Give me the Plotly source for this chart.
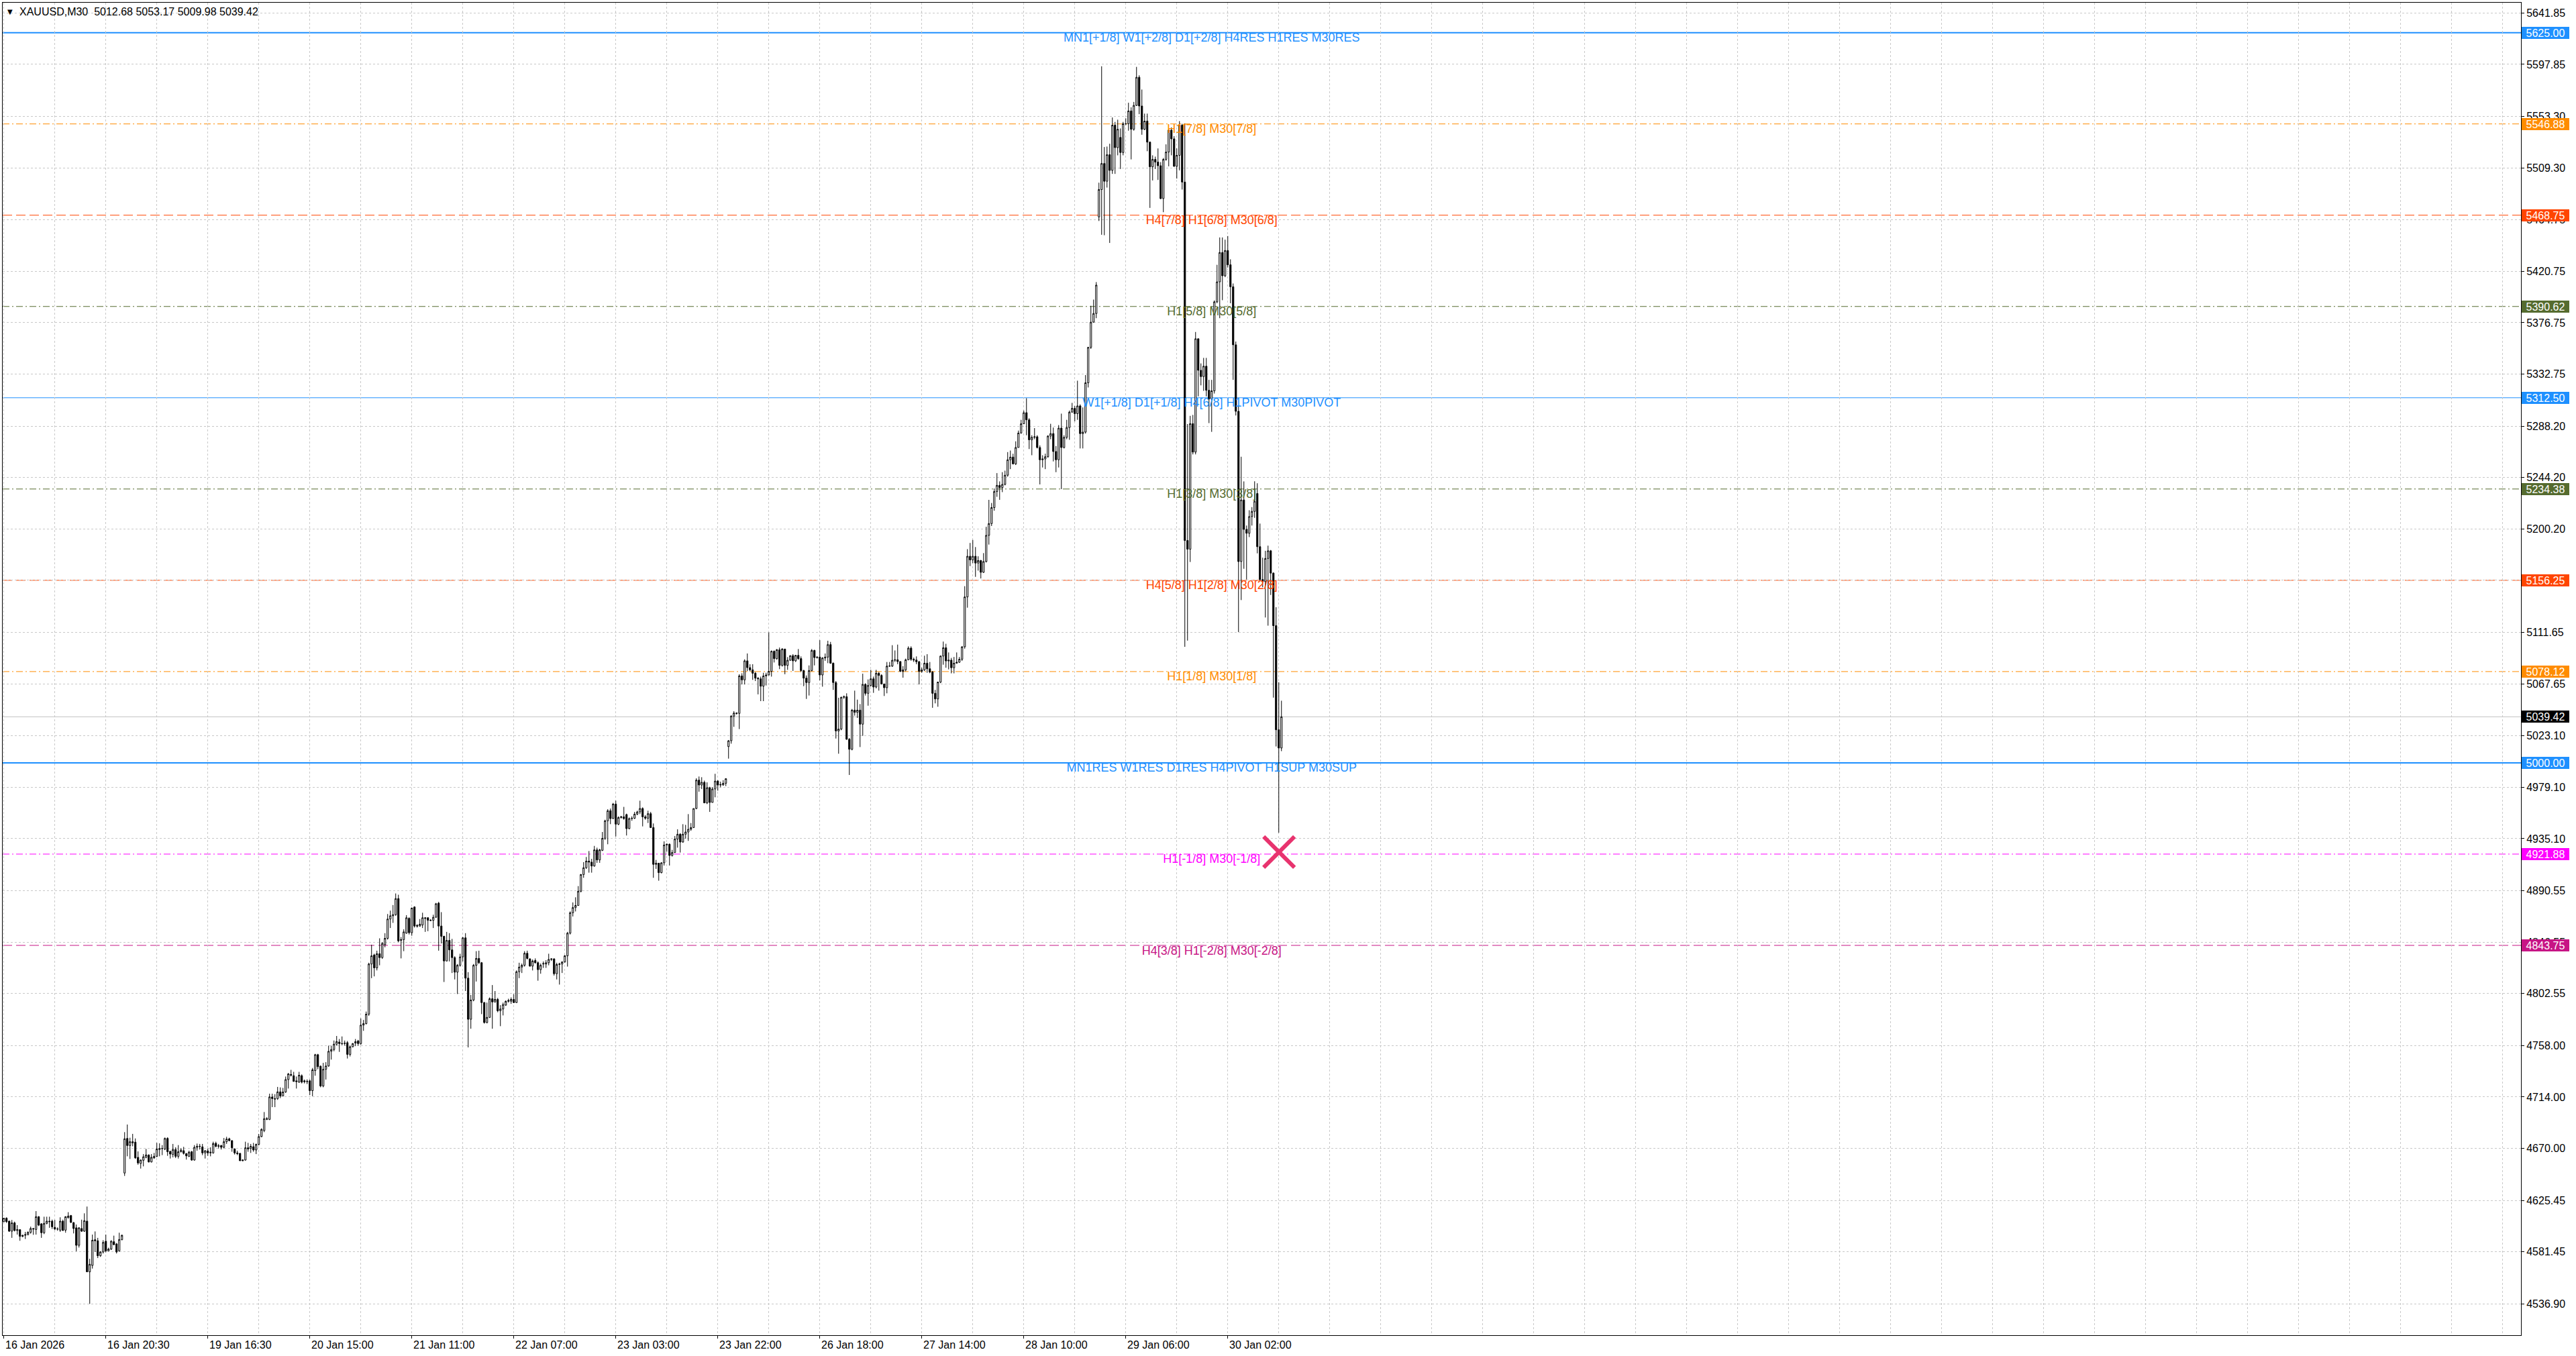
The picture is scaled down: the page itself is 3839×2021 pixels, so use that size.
import plotly.graph_objects as go

# XAUUSD M30 candles, one value per bar (bar index = position on the chart)
bar_open = [
    4607.3, 4610.2, 4607.7, 4599.1, 4606.2, 4599.7, 4600.4, 4594.7, 4595.6, 4596.2,
    4598.1, 4601.4, 4600.6, 4611.5, 4605.4, 4597.8, 4605.8, 4607.7, 4607.7, 4602.4,
    4601.0, 4600.0, 4607.7, 4600.0, 4610.6, 4612.5, 4606.4, 4602.0, 4587.0, 4601.4,
    4599.1, 4607.7, 4564.3, 4569.8, 4591.8, 4590.9, 4578.1, 4581.3, 4590.5, 4582.3,
    4583.8, 4590.1, 4588.2, 4582.3, 4591.8,
    4648.9, 4678.5, 4672.4, 4674.7, 4675.3, 4662.3, 4657.1, 4659.8, 4662.3, 4664.2,
    4658.4, 4661.9, 4663.2, 4669.0, 4669.9, 4669.4, 4678.5, 4667.4, 4664.7, 4669.0,
    4663.2, 4667.1, 4668.0, 4665.5, 4663.2, 4667.1, 4660.0, 4670.9, 4671.8, 4671.3,
    4666.1, 4667.8, 4666.1, 4666.1, 4674.3, 4671.8, 4672.4, 4670.9, 4675.7, 4678.2,
    4676.6, 4669.5, 4666.1, 4665.7, 4659.4, 4660.0, 4670.5, 4669.9, 4671.4, 4668.6,
    4673.4, 4680.1, 4685.2, 4694.8, 4694.8, 4714.0, 4712.6, 4712.6, 4718.4,
    4714.9, 4718.3, 4728.9, 4733.3, 4732.2, 4727.8, 4726.7, 4732.2, 4727.8, 4727.1,
    4727.8, 4719.4, 4736.6, 4750.2, 4740.3, 4723.4, 4737.7, 4740.5, 4753.1, 4754.6,
    4759.2, 4761.0, 4759.7, 4759.7, 4760.5, 4750.4, 4757.0, 4760.1, 4761.9, 4759.7,
    4775.5, 4776.8, 4784.9, 4827.8, 4835.5, 4824.5, 4836.6, 4833.3, 4844.3, 4849.8,
    4866.3, 4869.1, 4870.0, 4883.8, 4848.0, 4848.7, 4854.2, 4866.9, 4854.6, 4876.6,
    4860.8, 4860.3, 4861.2, 4867.4, 4867.4, 4865.2, 4865.2, 4867.8, 4879.9, 4860.3,
    4851.5, 4830.4, 4848.0, 4839.9, 4833.3, 4820.8, 4826.7, 4833.9, 4850.2, 4815.7,
    4780.5, 4797.0, 4826.7, 4832.6, 4828.9, 4794.8, 4777.7, 4782.1, 4798.1, 4795.3,
    4797.5, 4787.8, 4789.3, 4792.6, 4795.9, 4795.9, 4797.5, 4794.8, 4821.2, 4825.2,
    4826.7, 4837.0, 4832.2, 4826.0, 4830.8, 4828.9, 4823.0, 4827.8, 4827.8, 4828.9,
    4831.7, 4832.2, 4819.5, 4827.4, 4827.8, 4829.6, 4834.8, 4854.2, 4871.7, 4876.1,
    4877.9, 4890.1, 4904.4, 4910.2, 4915.9, 4915.0, 4911.7, 4925.5, 4916.9, 4925.1,
    4935.4, 4950.4, 4959.0, 4952.3, 4964.7, 4947.5, 4953.2, 4953.8, 4955.7, 4943.7,
    4952.3, 4952.6, 4956.1, 4958.0, 4960.9, 4953.8, 4952.6, 4956.5, 4944.6, 4913.1,
    4914.1, 4906.0, 4914.4, 4929.7, 4930.3, 4920.7, 4923.2, 4934.7, 4938.9, 4932.2,
    4938.9, 4940.8, 4943.1, 4944.6, 4960.9, 4985.2, 4981.0, 4983.3, 4965.7, 4978.7,
    4966.1, 4977.6, 4984.4, 4981.0, 4981.0, 4982.5,
    5013.9, 5018.9, 5040.0, 5042.6, 5042.3, 5074.4, 5071.0, 5087.3, 5081.5, 5079.6,
    5076.7, 5072.5, 5071.9, 5065.6, 5074.4, 5075.2, 5078.3, 5095.5, 5089.2, 5096.8,
    5083.4, 5097.4, 5083.4, 5087.8, 5091.7, 5087.3, 5092.0, 5089.2, 5079.0, 5072.5,
    5068.7, 5079.0, 5096.2, 5090.1, 5090.5, 5075.2, 5089.7, 5090.5, 5101.2, 5085.3,
    5068.7, 5027.3, 5028.9, 5056.1, 5056.6, 5020.2, 5011.6, 5045.1, 5043.2, 5045.1,
    5033.1, 5067.1, 5059.5, 5066.2, 5071.9, 5064.9, 5076.7, 5074.8, 5067.5, 5064.3,
    5082.8, 5082.8, 5087.8, 5088.2, 5086.7, 5078.3, 5079.6, 5088.2, 5098.2, 5088.6,
    5088.0, 5086.5, 5078.3, 5079.6, 5085.3, 5080.5, 5077.7, 5059.5, 5054.7,
    5069.1, 5091.4, 5098.5, 5087.2, 5087.9, 5081.4, 5085.3, 5086.1, 5088.7, 5099.3,
    5142.0, 5176.8, 5173.7, 5176.8, 5171.0, 5173.1, 5163.1, 5172.3, 5194.7, 5204.8,
    5218.5, 5232.2, 5237.5, 5235.6, 5238.3, 5246.2, 5259.4, 5261.7, 5255.9, 5269.9,
    5282.3, 5290.2, 5299.7, 5293.6, 5276.5, 5278.6, 5279.1, 5269.9, 5259.4, 5260.1,
    5262.0, 5279.7, 5281.8, 5266.5, 5259.4, 5286.5, 5269.9, 5278.6, 5287.0, 5300.2,
    5303.4, 5298.9, 5305.5, 5281.8, 5283.1, 5325.3, 5355.6, 5377.2, 5384.6,
    5467.3, 5490.7, 5513.0, 5497.8, 5520.5, 5507.1, 5545.8, 5526.6, 5535.3, 5522.4,
    5547.0, 5547.0, 5558.0, 5542.3, 5562.7, 5586.8, 5562.2, 5542.3, 5549.3, 5531.3,
    5510.2, 5516.5, 5514.2, 5511.1, 5483.0, 5516.5, 5522.8, 5541.6, 5534.1, 5510.6,
    5520.0, 5545.8,
    5497.1, 5190.3, 5182.9, 5290.3, 5266.0, 5363.0, 5336.0, 5330.6, 5339.5, 5318.9,
    5311.4, 5318.4, 5394.6, 5411.7, 5436.8, 5416.9, 5438.5, 5426.3, 5407.5, 5357.8,
    5300.9, 5172.3, 5225.0, 5199.8, 5196.5, 5210.8, 5215.2, 5230.5, 5185.0, 5156.9,
    5155.1, 5174.9, 5181.5, 5162.4, 5117.4, 5028.3, 5012.68,
]

bar_high = [
    4610.6, 4611.0, 4608.1, 4608.7, 4607.3, 4604.3, 4600.6, 4596.0, 4598.5, 4599.0,
    4603.0, 4601.8, 4616.3, 4612.0, 4606.0, 4611.5, 4611.5, 4611.5, 4609.0, 4608.7,
    4602.4, 4611.0, 4609.0, 4611.9, 4615.4, 4613.0, 4607.0, 4604.8, 4602.5, 4609.0,
    4614.4, 4620.2, 4575.5, 4596.2, 4598.9, 4593.4, 4582.0, 4591.4, 4596.2, 4585.0,
    4591.4, 4595.3, 4589.0, 4597.8, 4596.2,
    4683.9, 4690.4, 4679.1, 4682.4, 4678.5, 4667.4, 4660.5, 4665.1, 4669.5, 4665.0,
    4665.1, 4666.1, 4674.7, 4674.3, 4672.8, 4679.3, 4679.5, 4668.0, 4673.8, 4670.9,
    4672.8, 4670.0, 4671.3, 4666.0, 4668.0, 4667.8, 4672.8, 4674.1, 4673.8, 4673.8,
    4668.5, 4669.9, 4670.9, 4675.7, 4675.7, 4673.8, 4673.0, 4678.9, 4679.9, 4679.1,
    4677.0, 4670.0, 4668.0, 4666.0, 4660.6, 4675.7, 4674.7, 4673.8, 4674.7, 4674.1,
    4682.4, 4687.2, 4701.1, 4696.7, 4716.8, 4716.8, 4716.4, 4722.6, 4722.2,
    4721.8, 4731.5, 4734.5, 4737.2, 4735.5, 4731.5, 4735.5, 4733.3, 4728.9, 4729.0,
    4728.9, 4738.8, 4750.9, 4750.9, 4741.0, 4743.2, 4743.8, 4757.9, 4757.9, 4762.3,
    4766.2, 4763.6, 4765.8, 4762.3, 4761.9, 4757.9, 4760.1, 4763.6, 4762.9, 4781.2,
    4779.9, 4787.1, 4828.9, 4844.3, 4836.6, 4839.2, 4849.8, 4846.5, 4854.2, 4870.6,
    4873.5, 4878.3, 4888.2, 4887.1, 4850.9, 4857.5, 4869.6, 4867.8, 4876.1, 4877.2,
    4861.9, 4866.3, 4871.7, 4867.8, 4867.8, 4866.3, 4870.0, 4880.1, 4881.0, 4872.2,
    4852.0, 4855.3, 4854.2, 4849.3, 4834.4, 4827.8, 4836.6, 4850.9, 4854.2, 4820.8,
    4801.4, 4827.8, 4838.8, 4839.2, 4829.5, 4795.3, 4794.8, 4799.2, 4809.8, 4804.7,
    4798.8, 4792.6, 4794.8, 4796.6, 4798.1, 4799.2, 4801.9, 4822.3, 4828.9, 4828.2,
    4838.8, 4839.2, 4832.6, 4831.7, 4832.6, 4830.0, 4828.2, 4830.0, 4831.1, 4836.6,
    4832.6, 4832.6, 4828.9, 4828.9, 4830.0, 4835.5, 4855.3, 4872.8, 4880.5, 4884.9,
    4894.5, 4904.8, 4915.0, 4919.4, 4924.5, 4917.8, 4928.9, 4927.4, 4926.4, 4940.8,
    4951.3, 4960.3, 4960.9, 4965.7, 4967.6, 4954.2, 4954.6, 4962.3, 4956.5, 4953.2,
    4954.2, 4958.0, 4959.0, 4967.6, 4961.9, 4955.2, 4959.0, 4958.0, 4948.1, 4916.9,
    4914.4, 4915.0, 4932.8, 4930.9, 4931.0, 4925.5, 4937.4, 4943.1, 4939.8, 4947.5,
    4946.9, 4956.1, 4948.5, 4960.9, 4986.8, 4988.3, 4987.7, 4984.8, 4983.3, 4979.5,
    4979.1, 4990.6, 4985.2, 4983.9, 4985.2, 4986.8,
    5019.5, 5040.7, 5044.2, 5043.2, 5075.8, 5076.7, 5088.6, 5093.6, 5084.4, 5084.4,
    5077.7, 5073.3, 5073.8, 5077.1, 5077.1, 5111.6, 5096.2, 5096.2, 5097.4, 5098.7,
    5098.2, 5097.5, 5090.5, 5092.0, 5093.0, 5092.4, 5097.4, 5091.1, 5079.6, 5074.8,
    5083.4, 5097.4, 5096.8, 5091.1, 5105.0, 5090.5, 5093.6, 5104.5, 5103.5, 5085.9,
    5070.0, 5055.7, 5056.6, 5057.6, 5059.5, 5021.2, 5046.1, 5061.8, 5054.1, 5050.3,
    5076.3, 5068.1, 5071.4, 5079.6, 5073.8, 5079.6, 5077.7, 5075.8, 5067.8, 5086.3,
    5086.3, 5100.7, 5096.2, 5101.2, 5086.9, 5082.8, 5089.2, 5099.7, 5099.7, 5090.1,
    5091.1, 5087.3, 5081.5, 5091.7, 5093.0, 5086.3, 5078.6, 5062.4, 5069.5,
    5091.9, 5103.8, 5101.9, 5094.5, 5089.8, 5090.6, 5094.5, 5090.6, 5099.8, 5151.2,
    5182.9, 5188.2, 5190.8, 5184.7, 5176.8, 5173.7, 5179.5, 5202.1, 5225.1, 5222.4,
    5234.8, 5248.0, 5240.9, 5248.8, 5250.1, 5266.0, 5267.3, 5264.6, 5275.2, 5284.4,
    5293.6, 5301.5, 5312.1, 5295.0, 5280.4, 5286.5, 5280.4, 5271.7, 5263.3, 5264.6,
    5280.4, 5290.2, 5287.0, 5271.2, 5289.1, 5298.9, 5280.4, 5293.6, 5301.5, 5308.1,
    5305.5, 5327.1, 5306.8, 5304.2, 5331.9, 5356.1, 5391.2, 5396.5, 5411.5,
    5496.6, 5596.2, 5527.1, 5527.5, 5529.9, 5552.4, 5548.6, 5550.5, 5543.0, 5548.6,
    5551.7, 5565.0, 5561.1, 5565.7, 5595.7, 5588.5, 5576.3, 5555.7, 5555.7, 5531.8,
    5520.0, 5518.9, 5525.9, 5514.2, 5517.7, 5529.4, 5542.3, 5543.9, 5536.4, 5525.9,
    5549.3, 5547.0,
    5547.0, 5290.0, 5297.0, 5297.8, 5368.8, 5363.0, 5341.9, 5346.6, 5346.6, 5327.8,
    5327.8, 5395.8, 5426.3, 5449.7, 5449.7, 5447.8, 5450.9, 5431.0, 5410.3, 5360.6,
    5305.0, 5262.0, 5240.9, 5203.1, 5216.2, 5218.9, 5241.0, 5239.3, 5204.8, 5175.6,
    5181.5, 5185.9, 5182.2, 5163.0, 5133.2, 5069.0, 5053.17,
]

bar_low = [
    4606.7, 4606.2, 4598.5, 4593.4, 4598.9, 4596.2, 4590.9, 4593.9, 4592.4, 4595.5,
    4597.0, 4596.0, 4596.2, 4603.5, 4593.4, 4596.6, 4605.0, 4602.0, 4601.0, 4600.0,
    4599.5, 4598.5, 4599.5, 4597.8, 4610.0, 4606.0, 4597.2, 4581.9, 4585.1, 4598.5,
    4598.5, 4564.3, 4536.9, 4567.1, 4581.3, 4576.1, 4577.1, 4580.0, 4581.0, 4582.0,
    4583.0, 4587.0, 4580.0, 4581.5, 4591.4,
    4646.4, 4663.2, 4660.9, 4671.8, 4661.0, 4656.0, 4652.7, 4654.6, 4661.5, 4657.9,
    4657.9, 4661.0, 4662.5, 4663.2, 4664.2, 4668.5, 4663.6, 4661.3, 4662.3, 4661.7,
    4661.3, 4666.5, 4664.7, 4660.4, 4662.5, 4659.4, 4659.5, 4668.0, 4669.0, 4664.2,
    4661.3, 4663.6, 4663.2, 4665.5, 4670.9, 4669.9, 4669.0, 4670.0, 4673.8, 4676.0,
    4667.1, 4664.7, 4664.2, 4659.4, 4659.0, 4659.5, 4667.1, 4666.1, 4667.1, 4665.1,
    4672.5, 4679.5, 4683.9, 4694.2, 4694.2, 4705.3, 4705.3, 4711.5, 4713.0,
    4714.6, 4717.5, 4721.2, 4731.5, 4727.1, 4721.2, 4726.0, 4725.6, 4725.6, 4725.0,
    4715.7, 4714.6, 4732.2, 4737.7, 4722.3, 4722.3, 4728.9, 4739.9, 4746.0, 4753.1,
    4757.9, 4752.6, 4758.6, 4757.9, 4746.9, 4748.7, 4756.4, 4757.5, 4757.9, 4758.6,
    4770.6, 4776.1, 4783.4, 4815.7, 4817.2, 4822.3, 4826.7, 4832.2, 4842.1, 4848.7,
    4858.6, 4863.0, 4869.1, 4846.5, 4832.6, 4838.8, 4853.7, 4853.1, 4852.0, 4859.0,
    4859.0, 4859.7, 4858.6, 4855.3, 4855.9, 4864.8, 4858.6, 4867.4, 4839.2, 4845.4,
    4812.4, 4830.0, 4830.0, 4820.1, 4814.6, 4802.1, 4825.6, 4830.0, 4804.7, 4756.4,
    4772.4, 4795.9, 4812.8, 4827.8, 4784.9, 4776.8, 4777.0, 4781.6, 4772.4, 4794.8,
    4786.5, 4774.6, 4783.8, 4792.0, 4794.8, 4793.7, 4794.4, 4794.4, 4815.7, 4820.1,
    4825.6, 4831.7, 4825.6, 4822.3, 4828.2, 4813.5, 4819.5, 4824.5, 4824.5, 4826.7,
    4830.4, 4817.9, 4814.6, 4810.2, 4820.1, 4828.9, 4825.6, 4853.1, 4868.5, 4872.8,
    4877.6, 4889.1, 4901.6, 4909.2, 4906.0, 4906.0, 4911.1, 4914.4, 4914.4, 4924.5,
    4934.0, 4930.3, 4947.5, 4951.9, 4937.0, 4946.6, 4952.3, 4951.3, 4937.8, 4943.1,
    4950.4, 4951.9, 4955.2, 4956.1, 4945.6, 4951.3, 4948.5, 4944.2, 4901.6, 4909.2,
    4899.1, 4905.4, 4912.1, 4923.9, 4912.1, 4919.8, 4923.0, 4927.4, 4923.2, 4931.6,
    4935.1, 4933.2, 4941.8, 4944.2, 4960.3, 4975.3, 4977.6, 4965.7, 4964.7, 4958.0,
    4966.0, 4970.5, 4976.2, 4979.1, 4980.5, 4980.1,
    5003.6, 5016.4, 5030.8, 5041.3, 5028.9, 5067.1, 5067.1, 5078.6, 5078.3, 5071.0,
    5070.0, 5058.6, 5052.8, 5052.8, 5066.2, 5074.8, 5073.8, 5085.9, 5088.2, 5080.2,
    5082.4, 5075.8, 5079.6, 5087.3, 5078.6, 5086.3, 5088.2, 5077.7, 5065.6, 5054.7,
    5057.6, 5078.3, 5083.4, 5089.2, 5070.6, 5065.2, 5087.3, 5085.3, 5084.8, 5062.4,
    5020.8, 5007.8, 5027.9, 5054.7, 5019.7, 4989.6, 5010.7, 5040.4, 5038.4, 5013.5,
    5023.1, 5057.6, 5048.9, 5065.2, 5059.9, 5063.7, 5061.8, 5067.1, 5057.2, 5059.5,
    5082.1, 5082.1, 5086.3, 5084.4, 5077.7, 5072.9, 5078.3, 5087.8, 5087.3, 5086.3,
    5084.4, 5067.1, 5077.1, 5078.6, 5077.1, 5076.7, 5047.1, 5050.9, 5048.0,
    5068.2, 5084.0, 5081.4, 5080.0, 5076.6, 5076.6, 5085.0, 5085.5, 5087.2, 5097.7,
    5132.8, 5168.4, 5171.0, 5159.2, 5164.5, 5157.8, 5162.5, 5171.5, 5186.8, 5202.7,
    5215.8, 5227.7, 5225.1, 5231.7, 5237.5, 5244.9, 5251.4, 5255.4, 5254.9, 5269.9,
    5281.8, 5290.0, 5280.4, 5268.6, 5263.3, 5277.0, 5269.1, 5238.3, 5252.8, 5251.4,
    5261.2, 5277.0, 5258.0, 5248.8, 5252.8, 5234.3, 5269.1, 5277.0, 5276.5, 5299.7,
    5292.3, 5293.6, 5269.1, 5269.1, 5281.8, 5321.3, 5354.3, 5376.7, 5380.6,
    5463.8, 5452.0, 5451.6, 5492.4, 5445.0, 5504.1, 5504.1, 5520.0, 5508.3, 5520.0,
    5545.8, 5541.1, 5516.5, 5541.1, 5562.2, 5555.2, 5537.6, 5541.6, 5523.5, 5475.0,
    5498.5, 5508.3, 5498.9, 5482.5, 5471.3, 5515.3, 5510.6, 5520.0, 5510.2, 5500.1,
    5507.1, 5490.7,
    5099.3, 5104.6, 5171.9, 5264.0, 5264.0, 5313.7, 5323.1, 5318.4, 5313.7, 5290.8,
    5283.3, 5316.1, 5393.4, 5380.6, 5396.0, 5415.7, 5423.9, 5393.4, 5327.8, 5297.3,
    5111.9, 5139.3, 5166.1, 5156.9, 5193.2, 5203.1, 5209.7, 5179.3, 5155.8, 5150.3,
    5124.4, 5117.4, 5143.7, 5055.8, 5014.0, 4940.2, 5009.98,
]

bar_close = [
    4610.2, 4607.3, 4599.1, 4606.2, 4599.7, 4600.4, 4594.7, 4595.6, 4596.2, 4598.1,
    4601.4, 4601.0, 4611.5, 4604.3, 4597.8, 4605.8, 4607.7, 4607.3, 4602.9, 4601.0,
    4601.0, 4607.7, 4599.7, 4611.5, 4612.1, 4606.7, 4601.4, 4587.0, 4602.0, 4599.1,
    4608.1, 4564.3, 4570.8, 4591.4, 4590.9, 4578.1, 4581.3, 4589.5, 4582.3, 4583.8,
    4590.5, 4587.6, 4581.3, 4592.0, 4595.6,
    4678.2, 4672.4, 4675.7, 4675.7, 4661.9, 4657.5, 4660.0, 4662.8, 4664.4, 4658.4,
    4662.3, 4663.2, 4669.4, 4669.9, 4669.9, 4678.5, 4667.1, 4665.1, 4669.0, 4663.2,
    4667.1, 4668.6, 4665.7, 4663.6, 4666.7, 4660.0, 4670.9, 4671.8, 4671.6, 4666.1,
    4668.0, 4666.1, 4666.7, 4674.1, 4671.8, 4672.2, 4670.9, 4675.7, 4678.0, 4676.6,
    4670.5, 4666.1, 4665.5, 4659.4, 4660.0, 4670.5, 4669.5, 4671.8, 4668.6, 4673.4,
    4680.1, 4686.2, 4695.4, 4695.4, 4714.0, 4712.6, 4712.2, 4718.4, 4714.9,
    4718.3, 4728.9, 4733.7, 4732.6, 4727.3, 4727.1, 4732.6, 4726.7, 4727.1, 4727.3,
    4719.4, 4737.2, 4750.2, 4739.9, 4723.4, 4737.7, 4740.5, 4753.1, 4754.6, 4759.2,
    4761.4, 4759.7, 4759.5, 4760.1, 4750.4, 4757.0, 4759.7, 4761.4, 4759.7, 4775.5,
    4776.8, 4784.9, 4827.8, 4834.8, 4824.5, 4836.6, 4833.3, 4845.4, 4849.8, 4866.3,
    4869.1, 4870.0, 4883.8, 4847.6, 4848.7, 4855.3, 4867.4, 4854.6, 4875.7, 4860.3,
    4860.3, 4861.9, 4867.4, 4866.9, 4865.2, 4865.0, 4867.8, 4879.4, 4860.3, 4851.5,
    4830.4, 4848.0, 4839.9, 4833.3, 4820.8, 4826.7, 4833.9, 4850.2, 4815.7, 4780.5,
    4797.0, 4826.7, 4832.6, 4828.9, 4794.8, 4777.7, 4782.1, 4798.1, 4795.3, 4797.5,
    4787.8, 4789.3, 4793.1, 4795.9, 4796.6, 4797.5, 4794.8, 4821.2, 4825.2, 4826.7,
    4837.0, 4832.6, 4826.0, 4830.4, 4828.9, 4823.0, 4826.7, 4828.2, 4828.9, 4831.7,
    4832.2, 4819.5, 4827.4, 4827.8, 4829.6, 4834.8, 4854.2, 4871.7, 4876.1, 4877.9,
    4890.1, 4904.4, 4910.2, 4915.9, 4915.0, 4911.7, 4925.5, 4916.9, 4925.5, 4935.4,
    4950.4, 4959.0, 4952.3, 4964.7, 4947.5, 4953.2, 4953.8, 4952.3, 4943.7, 4952.3,
    4952.6, 4956.1, 4958.0, 4960.9, 4953.8, 4952.6, 4956.5, 4944.6, 4913.1, 4914.1,
    4906.0, 4914.4, 4929.7, 4930.3, 4920.7, 4923.2, 4934.7, 4938.9, 4932.2, 4938.9,
    4940.8, 4943.1, 4944.6, 4960.9, 4985.2, 4981.0, 4983.3, 4965.7, 4978.7, 4966.1,
    4977.6, 4984.4, 4981.0, 4981.4, 4982.5, 4986.4,
    5018.9, 5040.0, 5042.6, 5042.3, 5074.4, 5071.0, 5087.3, 5081.5, 5079.6, 5076.7,
    5072.5, 5071.9, 5065.6, 5074.4, 5075.2, 5078.3, 5095.5, 5089.2, 5096.8, 5083.4,
    5097.4, 5083.4, 5087.8, 5091.7, 5087.3, 5092.0, 5089.2, 5079.0, 5072.5, 5068.7,
    5079.0, 5096.2, 5090.1, 5090.5, 5075.2, 5089.7, 5090.5, 5101.2, 5085.3, 5068.7,
    5027.3, 5028.9, 5056.1, 5056.6, 5020.2, 5011.6, 5045.1, 5043.2, 5045.1, 5033.1,
    5067.1, 5059.5, 5066.2, 5071.9, 5064.9, 5076.7, 5074.8, 5067.5, 5064.3, 5082.8,
    5082.9, 5087.8, 5088.2, 5086.7, 5078.3, 5079.6, 5088.2, 5098.2, 5088.6, 5088.0,
    5086.5, 5078.3, 5079.6, 5085.3, 5080.5, 5077.7, 5059.5, 5054.7, 5069.1,
    5091.4, 5098.5, 5087.2, 5087.9, 5081.4, 5085.3, 5086.1, 5088.7, 5099.3, 5142.0,
    5176.8, 5173.7, 5176.8, 5171.0, 5173.1, 5163.1, 5172.3, 5194.7, 5204.8, 5218.5,
    5232.2, 5237.5, 5235.6, 5238.3, 5246.2, 5259.4, 5261.7, 5255.9, 5269.9, 5282.3,
    5290.2, 5299.7, 5293.6, 5276.5, 5278.6, 5279.1, 5269.9, 5259.4, 5260.1, 5262.0,
    5279.7, 5281.8, 5266.5, 5259.4, 5286.5, 5269.9, 5278.6, 5287.0, 5300.2, 5303.4,
    5298.9, 5305.5, 5281.8, 5283.1, 5325.3, 5355.6, 5377.2, 5384.6, 5408.9,
    5490.7, 5513.0, 5497.8, 5520.5, 5507.1, 5545.8, 5526.6, 5542.3, 5522.4, 5547.0,
    5547.0, 5558.0, 5542.3, 5562.7, 5586.8, 5562.2, 5542.3, 5549.3, 5531.3, 5510.2,
    5516.5, 5514.2, 5511.1, 5483.0, 5516.5, 5522.8, 5541.6, 5534.1, 5510.6, 5520.0,
    5545.8, 5497.1,
    5190.3, 5182.9, 5290.3, 5266.0, 5363.0, 5336.0, 5330.6, 5339.5, 5318.9, 5311.4,
    5318.4, 5394.6, 5411.7, 5436.8, 5416.9, 5438.5, 5426.3, 5407.5, 5357.8, 5300.9,
    5172.3, 5225.0, 5199.8, 5196.5, 5210.8, 5215.2, 5223.9, 5185.0, 5156.9, 5155.1,
    5174.9, 5181.5, 5162.4, 5117.4, 5028.3, 5012.7, 5039.42,
]

# time axis labels, one every 38 bars
time_labels = ["16 Jan 2026", "16 Jan 20:30", "19 Jan 16:30", "20 Jan 15:00", "21 Jan 11:00",
               "22 Jan 07:00", "23 Jan 03:00", "23 Jan 22:00", "26 Jan 18:00", "27 Jan 14:00",
               "28 Jan 10:00", "29 Jan 06:00", "30 Jan 02:00"]

price_ticks = [5641.85, 5597.85, 5553.30, 5509.30, 5464.75, 5420.75, 5376.75, 5332.75, 5288.20,
               5244.20, 5200.20, 5156.20, 5111.65, 5067.65, 5023.10, 4979.10, 4935.10, 4890.55,
               4846.55, 4802.55, 4758.00, 4714.00, 4670.00, 4625.45, 4581.45, 4536.90]

# Murrey math levels
level_prices = [5625.00, 5546.88, 5468.75, 5390.62, 5312.50, 5234.38, 5156.25, 5078.12,
                5000.00, 4921.88, 4843.75]
level_names = [
    "MN1[+1/8] W1[+2/8] D1[+2/8] H4RES H1RES M30RES",
    "H1[7/8] M30[7/8]",
    "H4[7/8] H1[6/8] M30[6/8]",
    "H1[5/8] M30[5/8]",
    "W1[+1/8] D1[+1/8] H4[6/8] H1PIVOT M30PIVOT",
    "H1[3/8] M30[3/8]",
    "H4[5/8] H1[2/8] M30[2/8]",
    "H1[1/8] M30[1/8]",
    "MN1RES W1RES D1RES H4PIVOT H1SUP M30SUP",
    "H1[-1/8] M30[-1/8]",
    "H4[3/8] H1[-2/8] M30[-2/8]",
]
level_colors = ["#1E90FF", "#FF8C00", "#FF4500", "#556B2F", "#1E90FF", "#556B2F",
                "#FF4500", "#FF8C00", "#1E90FF", "#FF00FF", "#C71585"]

last_price = 5039.42
signal_bar = 475.1
signal_price = 4923.6

DASHDOT = "10px,4px,2px,4px"
LONGDASH = "14px,6px"
level_style = [("solid", 2), (DASHDOT, 1), (LONGDASH, 1), (DASHDOT, 1), ("solid", 1), (DASHDOT, 1),
               (LONGDASH, 1), (DASHDOT, 1), ("solid", 2), (DASHDOT, 1), (LONGDASH, 1)]

FONT = "Liberation Sans, Arial, sans-serif"
W, H = 3839, 2021
L, R, T, B = 4, 82, 4, 31

bars = list(range(len(bar_close)))

fig = go.Figure()

# level texts go under the candles
fig.add_trace(go.Scatter(
    x=[450] * len(level_prices), y=level_prices, mode="text", text=level_names,
    textposition="bottom center",
    textfont=dict(family=FONT, size=18, color=level_colors),
    hoverinfo="skip", showlegend=False))

fig.add_trace(go.Candlestick(
    x=bars, open=bar_open, high=bar_high, low=bar_low, close=bar_close,
    increasing=dict(line=dict(color="black", width=1), fillcolor="white"),
    decreasing=dict(line=dict(color="black", width=1), fillcolor="black"),
    whiskerwidth=0, hoverinfo="skip", showlegend=False))

fig.add_trace(go.Scatter(
    x=[signal_bar], y=[signal_price], mode="markers",
    marker=dict(symbol="x-thin", size=46, line=dict(color="#E8336E", width=6)),
    hoverinfo="skip", showlegend=False))

shapes = []
for p, c, (d, w) in zip(level_prices, level_colors, level_style):
    shapes.append(dict(type="line", xref="paper", x0=0, x1=1, yref="y", y0=p, y1=p,
                       line=dict(color=c, width=w, dash=d), layer="between"))
shapes.append(dict(type="line", xref="paper", x0=0, x1=1, yref="y", y0=last_price, y1=last_price,
                   line=dict(color="#C0C0C0", width=1), layer="between"))

annotations = []
# price tags on the right scale
for p, c in zip(level_prices + [last_price], level_colors + ["#000000"]):
    annotations.append(dict(xref="paper", x=1, xanchor="left", xshift=1, yref="y", y=p,
                            yanchor="middle", text=f"{p:.2f}", showarrow=False,
                            font=dict(family=FONT, size=16, color="white"), bgcolor=c,
                            width=69, height=16, borderpad=1, borderwidth=0, align="center"))
# time labels, left aligned on their tick
for i, lab in enumerate(time_labels):
    annotations.append(dict(xref="x", x=i * 38, xanchor="left", xshift=0, yref="paper", y=0,
                            yanchor="top", yshift=-4, text=lab, showarrow=False,
                            font=dict(family=FONT, size=16, color="black")))
# header
annotations.append(dict(xref="paper", x=0, xanchor="left", xshift=5, yref="paper", y=1,
                        yanchor="middle", yshift=-13, text="▼", showarrow=False,
                        font=dict(family="DejaVu Sans", size=10, color="black")))
annotations.append(dict(xref="paper", x=0, xanchor="left", xshift=23, yref="paper", y=1,
                        yanchor="middle", yshift=-13,
                        text="XAUUSD,M30  5012.68 5053.17 5009.98 5039.42", showarrow=False,
                        font=dict(family=FONT, size=16, color="black")))

grid = dict(showgrid=True, gridcolor="#C8C8C8", gridwidth=1, griddash="3px,3px")

fig.update_layout(
    width=W, height=H, margin=dict(l=L, r=R, t=T, b=B),
    paper_bgcolor="white", plot_bgcolor="white",
    font=dict(family=FONT, size=16, color="black"),
    showlegend=False, hovermode=False, boxgap=0.25,
    shapes=shapes, annotations=annotations,
    xaxis=dict(range=[-0.43, 937.8], rangeslider=dict(visible=False),
               tickmode="array", tickvals=[i * 38 for i in range(len(time_labels))],
               showticklabels=False, ticks="outside", ticklen=4, tickcolor="black",
               minor=dict(tickmode="linear", tick0=0, dtick=19, ticks="", **grid),
               showline=True, linecolor="black", linewidth=1, mirror=True, zeroline=False,
               **grid),
    yaxis=dict(range=[4510.08, 5650.65], side="right", tickmode="array",
               tickvals=price_ticks, ticktext=[f"{v:.2f}" for v in price_ticks],
               ticks="outside", ticklen=4, tickcolor="black",
               tickfont=dict(family=FONT, size=16, color="black"),
               showline=True, linecolor="black", linewidth=1, mirror=True, zeroline=False,
               **grid),
)

fig.write_html("out.html", config={"displayModeBar": False},
               post_script="document.body.style.margin='0px';")
